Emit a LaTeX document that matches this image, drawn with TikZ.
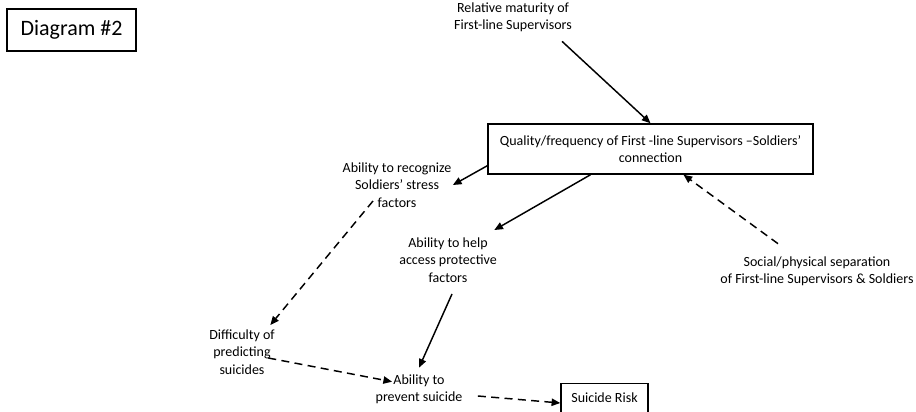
\documentclass[tikz,border=0pt]{standalone}
\usepackage{fontspec}
\setmainfont{Carlito}
\usetikzlibrary{arrows.meta,calc}

\begin{document}
\begin{tikzpicture}[x=0.75pt,y=-0.75pt,
  factor/.style={align=center,font=\fontsize{10.5}{13.1}\selectfont,inner sep=1pt},
  framed/.style={draw,line width=1.1pt,align=center,inner sep=0pt,
    font=\fontsize{10.5}{13.1}\selectfont},
  link/.style={-{Triangle[length=6.5pt,width=5.5pt]},line width=1.1pt},
  dlink/.style={link,dashed,dash pattern=on 6pt off 4pt}]
  \useasboundingbox (0,0) rectangle (916,411);
  % Title
  \node[framed,minimum width=96.75pt,minimum height=31.5pt,
    font=\fontsize{16.5}{19}\selectfont] (title) at (71.5,30) {Diagram \#2};
  % Factors
  \node[factor] (maturity) at (513,17) {Relative maturity of\\First-line Supervisors};
  \node[framed,minimum width=243.75pt,minimum height=37.5pt] (quality) at (650.5,149)
    {Quality/frequency of First -line Supervisors --Soldiers’\\connection};
  \node[factor] (recognize) at (397,185) {Ability to recognize\\Soldiers’ stress\\factors};
  \node[factor] (help) at (448,260) {Ability to help\\access protective\\factors};
  \node[factor] (separation) at (817,271) {Social/physical separation\\of First-line Supervisors \& Soldiers};
  \node[factor] (difficulty) at (242,352) {Difficulty of\\predicting\\suicides};
  \node[factor] (prevent) at (419,389) {Ability to\\prevent suicide};
  % Outcome (runs off the page at the bottom)
  \node[framed,anchor=north,minimum width=65.25pt,inner ysep=6.5pt] (risk) at (604.5,383)
    {Suicide Risk\rule[-30pt]{0pt}{0pt}};
  % Arrows
  \draw[link] ($(maturity.south)+(49,8)$) -- (quality.north);
  \draw[link] ($(quality.south west)+(0,-9)$) -- (recognize.east);
  \draw[link] ($(quality.south)+(-60,0)$) -- ($(help.north east)+(-4,-6)$);
  \draw[link] ($(help.south)+(4,10)$) -- ($(prevent.north)+(0,-5)$);
  \draw[dlink] ($(recognize.south)+(-24,-8)$) -- ($(difficulty.north east)+(-6,-3)$);
  \draw[dlink] ($(difficulty.east)+(-8,6)$) -- ($(prevent.north west)+(18,9)$);
  \draw[dlink] ($(prevent.east)+(14,7)$) -- ($(risk.north west)+(0,20)$);
  \draw[dlink] ($(separation.north)+(-39,-11)$) -- ($(quality.south)+(33,0)$);
\end{tikzpicture}
\end{document}
